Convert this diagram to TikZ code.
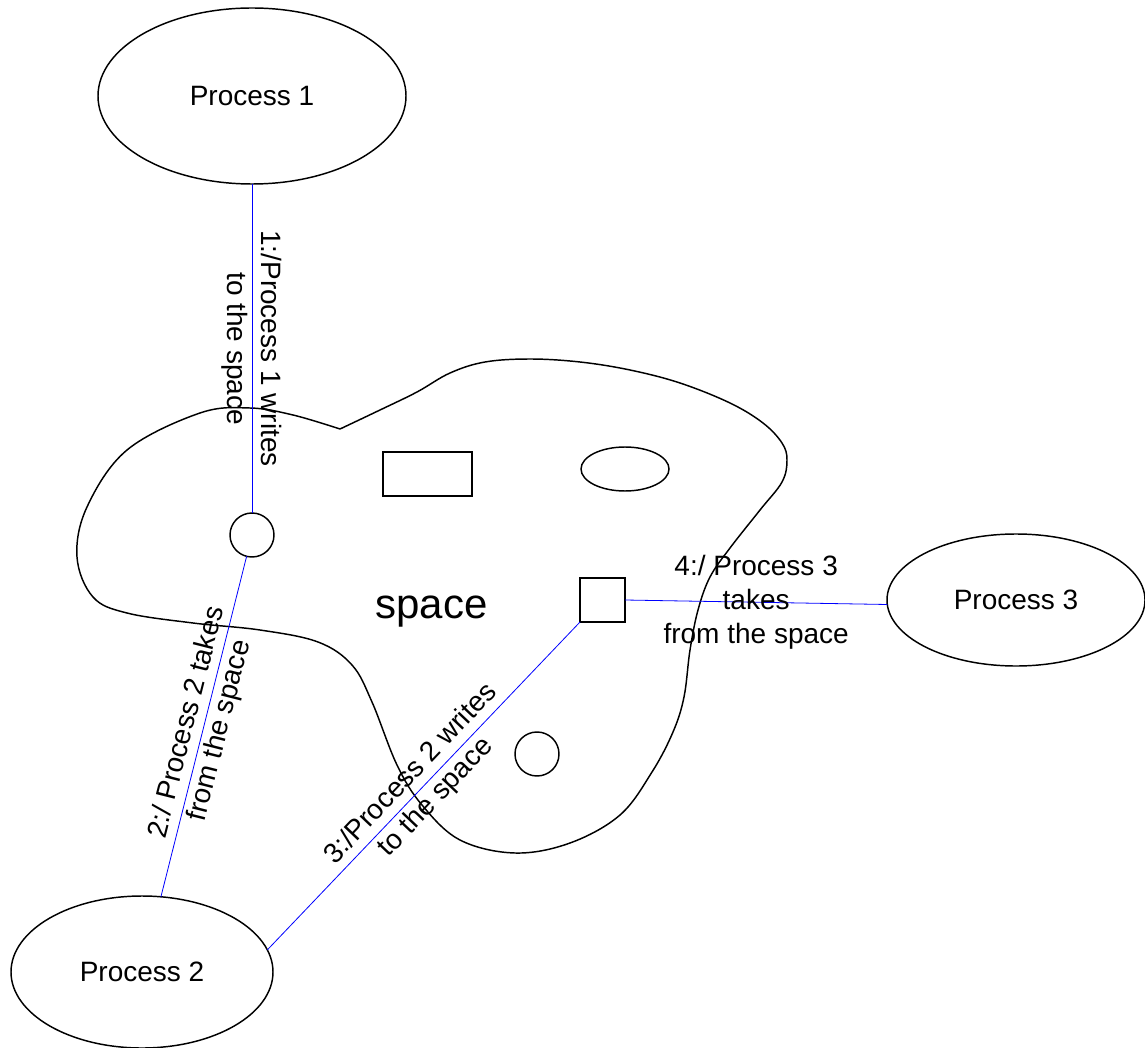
\documentclass[tikz,border=0pt]{standalone}
\usepackage{fontspec}
\setmainfont{Liberation Sans}
\usetikzlibrary{shapes.geometric}
\begin{document}
\begin{tikzpicture}[x=0.75pt,y=-0.75pt,
  procnode/.style={ellipse, draw, line width=1.1pt, inner sep=0pt, outer sep=0pt,
    font=\fontsize{21pt}{25.5pt}\selectfont},
  objbox/.style={draw, line width=1.1pt, inner sep=0pt, outer sep=0pt},
  conn/.style={draw=blue, line width=0.6pt},
  lbl/.style={font=\fontsize{21pt}{25.5pt}\selectfont, align=center, inner sep=0pt},
  blobline/.style={draw, line width=1.1pt, line join=round}
]
\useasboundingbox (0,0) rectangle (1145,1048);

% the space (blob)
\draw[blobline] plot[smooth, tension=0.6] coordinates {
 (340,429) (380,410) (417,392) (450,373) (485,362) (530,359) (580,362) (630,370)
 (680,383) (730,403) (763,423) (782,443) (787,460) (782,482) (760,510) (730,548)
 (710,577) (698,610) (690,650) (684,697) (673,732) (652,772) (620,815) (570,843)
 (515,853) (460,840) (422,805) (397,765) (372,702) (352,665) (318,642) (260,630)
 (193,623) (127,613) (93,597) (77,557) (87,507) (127,450) (200,413) (250,408)
 (293,415) (340,429)};

\node[lbl, font=\fontsize{31.5pt}{36pt}\selectfont, anchor=base] (spacelbl) at (431.5,618) {space};

% processes
\node[procnode, minimum width=231pt, minimum height=132pt] (p1) at (252,96) {Process 1};
\node[procnode, minimum width=196.5pt, minimum height=114pt] (p2) at (142,972) {Process 2};
\node[procnode, minimum width=193.5pt, minimum height=99pt] (p3) at (1016,600) {Process 3};

% objects inside the space
\node[objbox, circle, minimum size=33pt] (c1) at (252,535) {};
\node[objbox, rectangle, minimum width=66.75pt, minimum height=33pt] (rect) at (427.5,474) {};
\node[objbox, ellipse, minimum width=66pt, minimum height=33pt] (oval) at (625,469) {};
\node[objbox, rectangle, minimum width=33.75pt, minimum height=33pt] (sq) at (602.5,600) {};
\node[objbox, circle, minimum size=33pt] (c2) at (537,754) {};

% connectors
\draw[conn] (p1) -- node[lbl, rotate=-90] {1:/Process 1 writes\\to the space} (c1);
\draw[conn] (c1) -- node[lbl, rotate=75.8] {2:/ Process 2 takes\\from the space} (p2);
\draw[conn] (sq.south west) -- node[lbl, rotate=46.5] {3:/Process 2 writes\\to the space} (p2.10);
\draw[conn] (sq.east) -- node[lbl] {4:/ Process 3\\takes\\from the space} (p3.182);
\end{tikzpicture}
\end{document}
